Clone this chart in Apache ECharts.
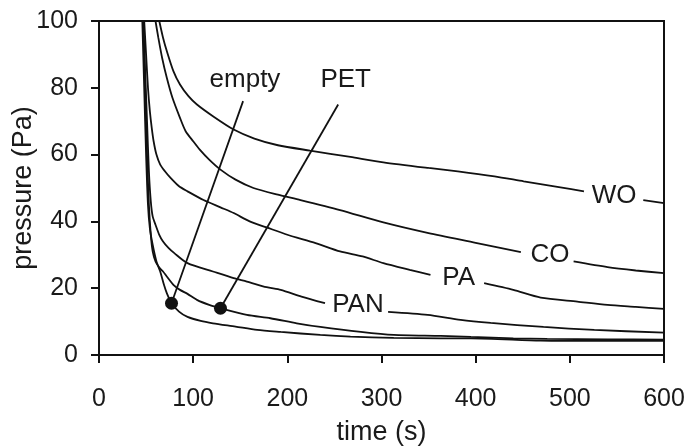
<!DOCTYPE html>
<html>
<head>
<meta charset="utf-8">
<script src="https://cdn.jsdelivr.net/npm/echarts@6/dist/echarts.min.js"></script>
<style>
  html, body { margin: 0; padding: 0; background: #fff; }
  #chart { width: 688px; height: 448px; }
</style>
</head>
<body>
<div id="chart"></div>
<script>
// pressure decay curves as [time (s), pressure (Pa)]
// ['-','-'] marks the gap where the curve's name is written
var wo = [[64,100],[68,95],[72,91],[79,85],[86,81],[95,77.5],[104,75],[121,71.5],[143,67.5],[165,64.8],[190,62.8],[224,61.2],[267,59.3],[302,57.7],[350,56],[381,55],[420,53.5],[451,52],[490,50.2],[515,49],
  ['-','-'], [578,46.4],[600,45.5]];
var co = [[60,100],[63,95],[67,89],[72,83],[78,77],[86,71],[92,67],[100,64],[107,61.5],[117,58.5],[129,55.5],[145,52.5],[164,50],[190,48],[214,46.4],[256,43.4],[302,39.7],[350,36.5],[400,33.6],[448,30.8],
  ['-','-'], [504,28],[540,26.3],[570,25.3],[600,24.5]];
var pa = [[48,100],[50,90],[52,80],[54,73],[56,68],[58,64],[61,60],[65,57],[70,55],[76,53],[85,50.5],[94,49],[111,46.4],[129,44.2],[143,42.5],[160,40],[178,38.2],[200,36],[230,33.5],[256,31],[280,29.5],[302,27.5],[330,25.5],[352,24],
  ['-','-'], [409,21.5],[440,19.5],[469,17.2],[508,16],[540,15],[570,14.4],[600,13.8]];
var pan = [[47,100],[49,85],[51,70],[53,55],[55,46],[57,41.5],[60,39],[64,36],[68,34],[74,32],[80,30.5],[94,27.5],[121,25],[143,23],[157,22],[178,20.3],[193,19.5],[215,17.5],[240,15.5],
  ['-','-'], [307,12.9],[349,12],[384,10.5],[416,9.6],[472,8.4],[526,7.5],[600,6.7]];
var pet = [[47,100],[49,80],[51,60],[53,45],[55,36],[57,31],[60,28],[64,26.2],[68,25],[72,23.5],[79,21],[86,19.5],[94,18.3],[104,16.5],[117,15],[129,14],[157,12],[182,11],[210,9.5],[235,8.4],[278,6.9],[313,6],[363,5.7],[395,5.4],[440,5],[476,4.8],[540,4.7],[600,4.6]];
var empty = [[46,100],[48,80],[50,60],[52,45],[54,38],[57,33],[61,28],[65,25],[69,21],[72,18.5],[77,15.5],[85,13],[94,11.4],[108,10.2],[121,9.5],[145,8.5],[168,7.5],[193,6.9],[235,6],[267,5.5],[313,5.1],[363,5],[395,5],[469,4.3],[540,4.2],[600,4.2]];

// curve names written on the curves
var curveNames = ['WO', 'CO', 'PA', 'PAN'];
var curveNameAt = [[547,47.8],[479,30],[382,23.2],[275,15]];

// callouts: marked point and where the text sits
var calloutNames = ['empty', 'PET'];
var calloutDots = [[77,15.5],[129,14]];
var calloutText = [[155,82.5],[262,82.5]];
var calloutLineTop = [[153,76],[254,75]];

var xTicks = [0, 600, 100]; // min, max, step
var yTicks = [0, 100, 20];

var FONT = "'Liberation Sans', Arial, sans-serif";
var INK = '#111';
var TXT = '#1a1a1a';

var chart = echarts.init(document.getElementById('chart'), null, {renderer: 'canvas'});

function curve(name, data) {
  return {
    name: name,
    type: 'line',
    data: data,
    showSymbol: false,
    smooth: 0.25,
    connectNulls: false,
    lineStyle: {color: INK, width: 1.8},
    silent: true,
    z: 3
  };
}

var series = [
  curve('WO', wo), curve('CO', co), curve('PA', pa),
  curve('PAN', pan), curve('PET', pet), curve('empty', empty)
];

// callout leader lines
for (var i = 0; i < calloutNames.length; i++) {
  series.push({
    type: 'line',
    data: [calloutLineTop[i], calloutDots[i]],
    showSymbol: false,
    lineStyle: {color: INK, width: 1.8},
    silent: true,
    z: 3
  });
}

// callout dots
series.push({
  type: 'scatter',
  data: calloutDots,
  symbol: 'circle',
  symbolSize: 13,
  itemStyle: {color: INK, opacity: 1},
  silent: true,
  z: 4
});

// all texts placed in data space
var texts = [];
for (var j = 0; j < curveNames.length; j++) {
  texts.push({name: curveNames[j], value: curveNameAt[j]});
}
for (var k = 0; k < calloutNames.length; k++) {
  texts.push({name: calloutNames[k], value: calloutText[k]});
}
series.push({
  type: 'scatter',
  data: texts,
  symbolSize: 0,
  itemStyle: {color: '#fff', opacity: 1},
  label: {
    show: true,
    position: 'inside',
    formatter: '{b}',
    fontFamily: FONT,
    fontSize: 26,
    color: TXT
  },
  silent: true,
  z: 5
});

var option = {
  animation: false,
  backgroundColor: '#fff',
  grid: {
    left: 99, right: 24, top: 21, bottom: 93,
    outerBoundsMode: 'none',
    containLabel: false,
    show: true,
    borderColor: INK,
    borderWidth: 2,
    backgroundColor: 'transparent'
  },
  xAxis: {
    type: 'value',
    min: xTicks[0], max: xTicks[1], interval: xTicks[2],
    name: 'time (s)',
    nameLocation: 'middle',
    nameGap: 64,
    nameTextStyle: {fontFamily: FONT, fontSize: 27, color: TXT},
    axisLine: {show: true, lineStyle: {color: INK, width: 2}},
    axisTick: {show: true, inside: false, length: 8, lineStyle: {color: INK, width: 2}},
    axisLabel: {margin: 32, fontFamily: FONT, fontSize: 25, color: TXT},
    splitLine: {show: false}
  },
  yAxis: {
    type: 'value',
    min: yTicks[0], max: yTicks[1], interval: yTicks[2],
    name: 'pressure (Pa)',
    nameLocation: 'middle',
    nameGap: 62,
    nameMoveOverlap: false,
    nameTextStyle: {fontFamily: FONT, fontSize: 27, color: TXT},
    axisLine: {show: true, lineStyle: {color: INK, width: 2}},
    axisTick: {show: true, inside: false, length: 8, lineStyle: {color: INK, width: 2}},
    axisLabel: {margin: 21, fontFamily: FONT, fontSize: 25, color: TXT},
    splitLine: {show: false}
  },
  series: series
};

chart.setOption(option);
</script>
</body>
</html>
